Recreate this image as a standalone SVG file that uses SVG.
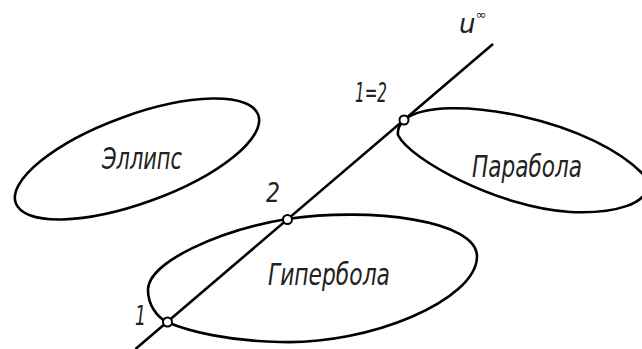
<svg xmlns="http://www.w3.org/2000/svg" width="642" height="349" viewBox="0 0 642 349">
<style>
.curve{fill:none;stroke:#000;stroke-width:2.6;stroke-linejoin:round}
.pt{fill:#fff;stroke:#000;stroke-width:2}
.lbl{font-family:"DejaVu Sans","DejaVu Sans Condensed",sans-serif;font-style:italic;font-weight:200;fill:#222}
</style>
<rect width="642" height="349" fill="#fff"/>
<g id="ellipse">
<ellipse class="curve" cx="137" cy="159" rx="129" ry="44" transform="rotate(-20 137 159)"/>
<text class="lbl" x="102" y="169" font-size="30" textLength="80" lengthAdjust="spacingAndGlyphs">Эллипс</text>
</g>
<g id="hyperbola">
<path class="curve" d="M287,219 C370,207 478,220 477,257 C476,300 370,345 280,342 C230,341 190,332 167,322 C157,317 148,305 148,290 C148,262 220,230 287,219 Z"/>
<text class="lbl" x="268" y="285" font-size="30" textLength="122" lengthAdjust="spacingAndGlyphs">Гипербола</text>
</g>
<g id="parabola">
<path class="curve" d="M404,120 C440,90 600,120 648,180 C652,205 612,214 570,212 C500,208 410,160 398,135 C397,128 400,124 404,120 Z"/>
<text class="lbl" x="472" y="177" font-size="30" textLength="110" lengthAdjust="spacingAndGlyphs">Парабола</text>
</g>
<g id="connectors">
<line class="curve" x1="135.5" y1="349" x2="493" y2="44"/>
</g>
<g id="p1">
<circle class="pt" cx="167.5" cy="322" r="4.5"/>
<text class="lbl" x="135" y="325" font-size="27" textLength="11" lengthAdjust="spacingAndGlyphs">1</text>
</g>
<g id="p2">
<circle class="pt" cx="287.5" cy="219.5" r="4.5"/>
<text class="lbl" x="266" y="202" font-size="27" textLength="14" lengthAdjust="spacingAndGlyphs">2</text>
</g>
<g id="p12">
<circle class="pt" cx="404" cy="120" r="4.5"/>
<text class="lbl" x="355" y="102" font-size="27" textLength="32" lengthAdjust="spacingAndGlyphs">1=2</text>
</g>
<g id="uinf">
<text class="lbl" x="459" y="33" font-size="26">u<tspan font-size="13" dy="-14">∞</tspan></text>
</g>
</svg>
